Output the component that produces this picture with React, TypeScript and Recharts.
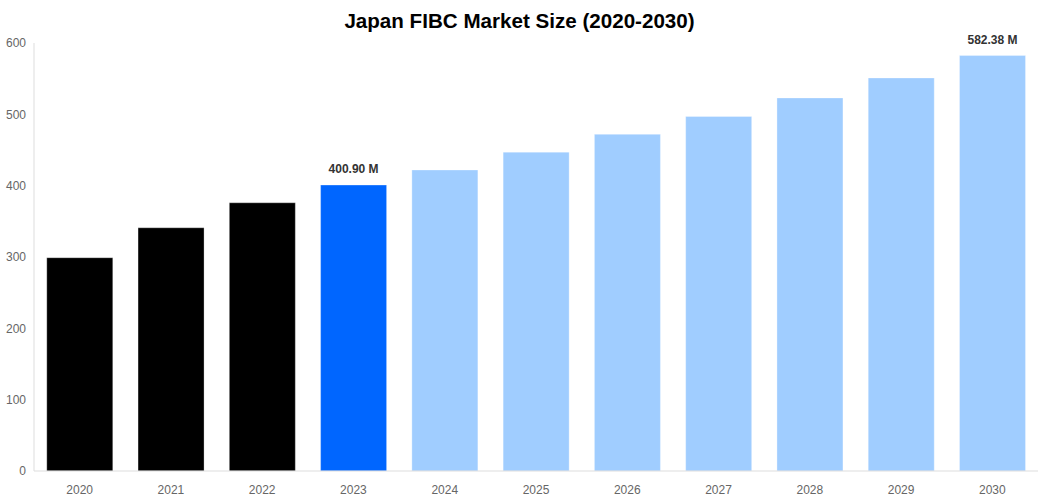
import React from "react";
import { BarChart, Bar, XAxis, YAxis, Cell, LabelList } from "recharts";

const years = ["2020", "2021", "2022", "2023", "2024", "2025", "2026", "2027", "2028", "2029", "2030"];
const marketSize = [299, 341, 376, 400.9, 422, 447, 472, 497, 523, 551, 582.38];
const barLabels = ["", "", "", "400.90 M", "", "", "", "", "", "", "582.38 M"];
const barColors = [
  "#000000", "#000000", "#000000", "#0066ff",
  "#a0cdff", "#a0cdff", "#a0cdff", "#a0cdff", "#a0cdff", "#a0cdff", "#a0cdff",
];
const yTicks = [0, 100, 200, 300, 400, 500, 600];

const data = years.map((year, i) => ({
  year,
  value: marketSize[i],
  label: barLabels[i],
}));

const font = "'Liberation Sans', Arial, sans-serif";

function TopLabel(props: any) {
  const { x, y, width, value } = props;
  if (!value) return null;
  return (
    <text
      x={Number(x) + Number(width) / 2}
      y={Number(y) - 12}
      textAnchor="middle"
      fontSize={12}
      fontWeight="bold"
      fill="#333"
      fontFamily={font}
    >
      {value}
    </text>
  );
}

export default function App() {
  return (
    <div style={{ position: "absolute", top: 0, left: 0, width: 1039, height: 500, fontFamily: font, background: "#fff" }}>
      <div
        style={{
          position: "absolute",
          top: 9,
          left: 0,
          width: 1039,
          textAlign: "center",
          fontSize: 20.6,
          fontWeight: "bold",
          color: "#000",
        }}
      >
        Japan FIBC Market Size (2020-2030)
      </div>
      <BarChart
        width={1039}
        height={500}
        data={data}
        margin={{ top: 43, right: 1, left: 0, bottom: 0 }}
        barCategoryGap="14%"
      >
        <XAxis
          dataKey="year"
          height={29}
          tickLine={false}
          tickMargin={8}
          axisLine={{ stroke: "#dddddd" }}
          tick={{ fontSize: 12, fill: "#666", fontFamily: font }}
          interval={0}
        />
        <YAxis
          width={34}
          domain={[0, 600]}
          ticks={yTicks}
          tickLine={false}
          axisLine={{ stroke: "#dddddd" }}
          tick={{ fontSize: 12, fill: "#666", fontFamily: font }}
        />
        <Bar dataKey="value" isAnimationActive={false} stroke="#ffffff" strokeOpacity={0.3} strokeWidth={1}>
          {data.map((d, i) => (
            <Cell key={d.year} fill={barColors[i]} />
          ))}
          <LabelList dataKey="label" content={TopLabel} />
        </Bar>
      </BarChart>
    </div>
  );
}
